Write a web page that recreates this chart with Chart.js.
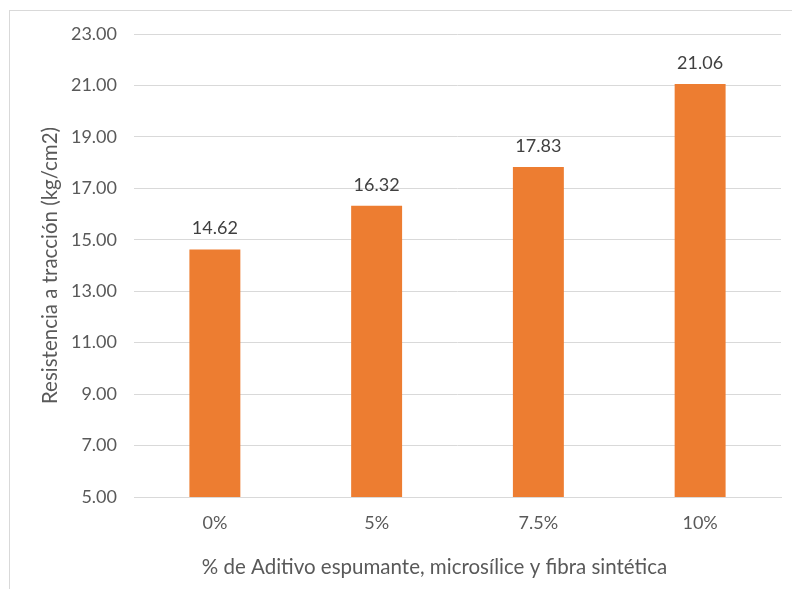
<!DOCTYPE html>
<html>
<head>
<meta charset="utf-8">
<script src="https://cdn.jsdelivr.net/npm/chart.js@4/dist/chart.umd.min.js"></script>
<style>
  html, body { margin: 0; padding: 0; background: #ffffff; }
  #wrap { position: relative; width: 792px; height: 589px; overflow: hidden; }
  #frame { position: absolute; left: 9px; top: 10px; width: 800px; height: 600px;
           border-left: 1px solid #d9d9d9; border-top: 1px solid #d9d9d9; box-sizing: border-box; }
  canvas { position: absolute; left: 0; top: 0; }
</style>
</head>
<body>
<div id="wrap">
  <div id="frame"></div>
  <canvas id="chart" width="792" height="589"></canvas>
</div>
<script>
// Tensile strength by additive dosage
const categories = ['0%', '5%', '7.5%', '10%'];
const resistencia = [14.62, 16.32, 17.83, 21.06];
const yMin = 5;
const yMax = 23;
const yStep = 2;
const xTitle = '% de Aditivo espumante, microsílice y fibra sintética';
const yTitle = 'Resistencia a tracción (kg/cm2)';

const FONT = 'Lato, "Open Sans", "Liberation Sans", sans-serif';

// Writes each bar's value above it, and the horizontal axis title
const valueLabels = {
  id: 'valueLabels',
  afterDatasetsDraw(chart) {
    const ctx = chart.ctx;
    const meta = chart.getDatasetMeta(0);
    ctx.save();
    ctx.font = '18px ' + FONT;
    ctx.fillStyle = '#404040';
    ctx.textAlign = 'center';
    ctx.textBaseline = 'middle';
    meta.data.forEach((bar, i) => {
      ctx.fillText(resistencia[i].toFixed(2), bar.x, bar.y - 21);
    });
    // axis title sits slightly left of the plot centre
    const area = chart.chartArea;
    ctx.font = '20.5px ' + FONT;
    ctx.fillStyle = '#595959';
    ctx.fillText(xTitle, (area.left + area.right) / 2 - 23, area.bottom + 70);
    ctx.restore();
  }
};

new Chart(document.getElementById('chart'), {
  type: 'bar',
  data: {
    labels: categories,
    datasets: [{
      data: resistencia,
      backgroundColor: '#ED7D31',
      borderWidth: 0,
      categoryPercentage: 1,
      barPercentage: 0.315
    }]
  },
  options: {
    responsive: false,
    animation: false,
    events: [],
    layout: { padding: { left: 0, top: 34, right: 11, bottom: 0 } },
    plugins: { legend: { display: false }, tooltip: { enabled: false } },
    scales: {
      x: {
        afterFit(scale) { scale.height = 92; },
        grid: { display: false, drawTicks: false },
        border: { display: true, color: '#d9d9d9', width: 1 },
        ticks: { color: '#595959', font: { family: FONT, size: 18 }, padding: 15 },
        title: { display: false }
      },
      y: {
        min: yMin,
        max: yMax,
        afterFit(scale) { scale.width = 134; },
        afterBuildTicks(scale) {
          const t = [];
          for (let v = yMin; v <= yMax; v += yStep) t.push({ value: v });
          scale.ticks = t;
        },
        grid: { color: '#d9d9d9', lineWidth: 1, drawTicks: false },
        border: { display: false },
        ticks: {
          color: '#595959',
          font: { family: FONT, size: 18 },
          padding: 17,
          callback: (v) => Number(v).toFixed(2)
        },
        title: {
          display: true,
          text: yTitle,
          color: '#595959',
          font: { family: FONT, size: 20.5 },
          padding: { top: 38, bottom: 0 }
        }
      }
    }
  },
  plugins: [valueLabels]
});
</script>
</body>
</html>
